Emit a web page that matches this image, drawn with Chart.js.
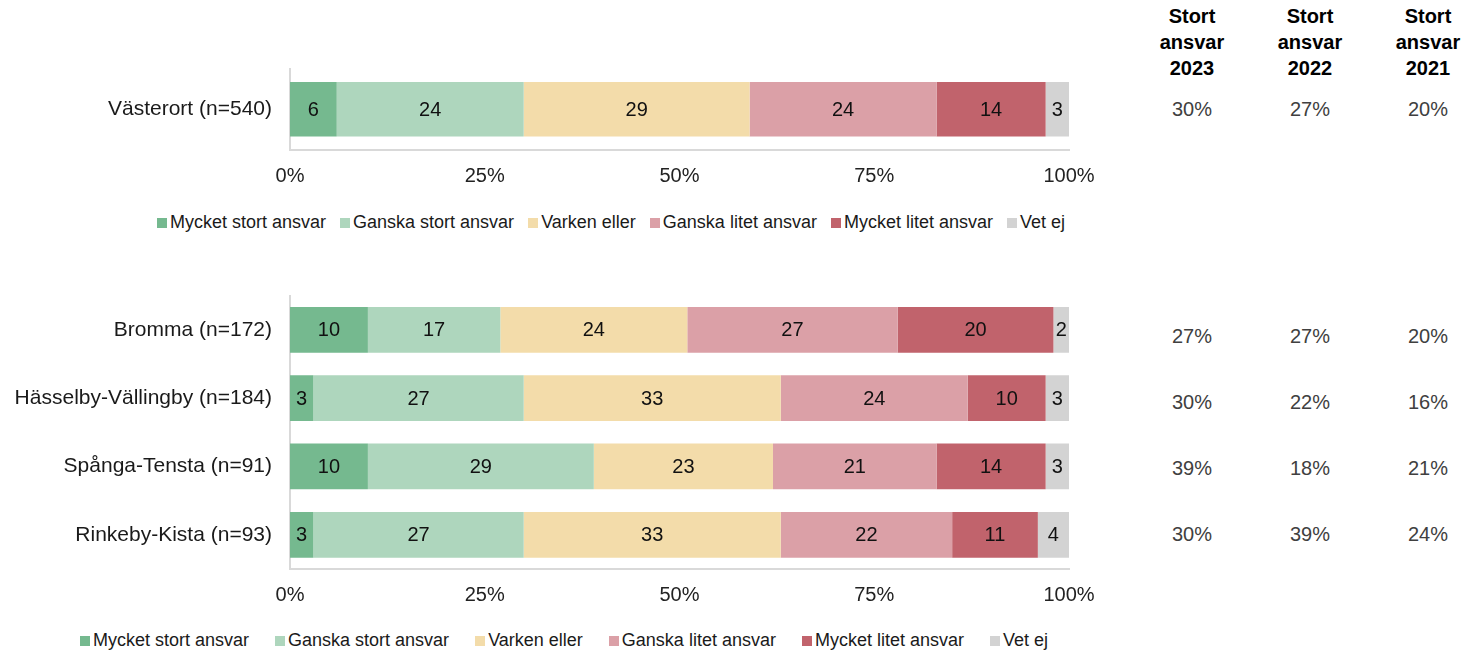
<!DOCTYPE html>
<html>
<head>
<meta charset="utf-8">
<script src="https://cdn.jsdelivr.net/npm/chart.js@4"></script>
<style>
  body { margin: 0; background: #fff; font-family: "Liberation Sans", Arial, sans-serif; }
  #wrap { position: relative; width: 1468px; height: 651px; overflow: hidden; }
  .cv { position: absolute; left: 0; }
  .legend { position: absolute; display: flex; align-items: center; font-size: 18px; color: #1a1a1a; white-space: nowrap; }
  .legend .item { display: flex; align-items: center; }
  .legend .box { width: 10px; height: 10px; margin-right: 3px; }
  .th, .td { position: absolute; width: 110px; text-align: center; font-size: 20px; }
  .th { font-weight: bold; color: #000; line-height: 26px; }
  .td { color: #404040; }
</style>
</head>
<body>
<div id="wrap">
  <canvas id="chart1" class="cv" style="top:38px"></canvas>
  <canvas id="chart2" class="cv" style="top:265px"></canvas>
  <div id="legend1" class="legend" style="left:157px; top:212px; gap:14px"></div>
  <div id="legend2" class="legend" style="left:80px; top:630px; gap:26px"></div>
  <div id="table"></div>
</div>
<script>
// areas: Västerort first, then the districts
const areas = ["Västerort (n=540)", "Bromma (n=172)", "Hässelby-Vällingby (n=184)", "Spånga-Tensta (n=91)", "Rinkeby-Kista (n=93)"];

const seriesNames = ["Mycket stort ansvar", "Ganska stort ansvar", "Varken eller", "Ganska litet ansvar", "Mycket litet ansvar", "Vet ej"];
const seriesColors = ["#75b98f", "#aed6bd", "#f3dcaa", "#dba0a7", "#c1636c", "#d3d3d3"];

const mycketStort = [6, 10, 3, 10, 3];
const ganskaStort = [24, 17, 27, 29, 27];
const varkenEller = [29, 24, 33, 23, 33];
const ganskaLitet = [24, 27, 24, 21, 22];
const mycketLitet = [14, 20, 10, 14, 11];
const vetEj = [3, 2, 3, 3, 4];

const xTicks = [0, 25, 50, 75, 100];

const tableHeaders = ["Stort<br>ansvar<br>2023", "Stort<br>ansvar<br>2022", "Stort<br>ansvar<br>2021"];
const stort2023 = ["30%", "27%", "30%", "39%", "30%"];
const stort2022 = ["27%", "27%", "22%", "18%", "39%"];
const stort2021 = ["20%", "20%", "16%", "21%", "24%"];

const allSeries = [mycketStort, ganskaStort, varkenEller, ganskaLitet, mycketLitet, vetEj];
const FONT = "'Liberation Sans', Arial, sans-serif";

// value labels in the middle of every segment
const segmentLabels = {
  id: "segmentLabels",
  afterDatasetsDraw(chart) {
    const ctx = chart.ctx;
    ctx.save();
    ctx.font = "20px " + FONT;
    ctx.fillStyle = "#111";
    ctx.textAlign = "center";
    ctx.textBaseline = "middle";
    chart.data.datasets.forEach((ds, i) => {
      chart.getDatasetMeta(i).data.forEach((bar, j) => {
        const p = bar.getProps(["x", "y", "base"], true);
        ctx.fillText(ds.data[j], (p.x + p.base) / 2, p.y + 1);
      });
    });
    ctx.restore();
  }
};

function makeChart(id, labels, from, to, height) {
  const canvas = document.getElementById(id);
  canvas.width = 1110;
  canvas.height = height;
  canvas.style.width = "1110px";
  canvas.style.height = height + "px";
  return new Chart(canvas, {
    type: "bar",
    data: {
      labels: labels,
      datasets: seriesNames.map((name, i) => ({
        label: name,
        data: allSeries[i].slice(from, to),
        backgroundColor: seriesColors[i],
        borderWidth: 0,
        categoryPercentage: 1,
        barPercentage: 0.67
      }))
    },
    options: {
      indexAxis: "y",
      responsive: false,
      animation: false,
      layout: { padding: { top: 0, right: 41, left: 0, bottom: 0 } },
      plugins: { legend: { display: false }, tooltip: { enabled: false } },
      scales: {
        x: {
          stacked: true,
          min: 0,
          max: 100,
          afterBuildTicks: s => { s.ticks = xTicks.map(v => ({ value: v })); },
          afterFit: s => { s.height = 40; },
          grid: { display: false, drawTicks: false },
          border: { display: true, color: "#d9d9d9", width: 2 },
          ticks: {
            padding: 14,
            color: "#222",
            font: { family: FONT, size: 20 },
            callback: v => v + "%"
          }
        },
        y: {
          stacked: true,
          afterFit: s => { s.width = 290; },
          grid: { display: false, drawTicks: false },
          border: { display: true, color: "#d9d9d9", width: 2 },
          ticks: {
            padding: 18,
            color: "#1a1a1a",
            font: { family: FONT, size: 21 }
          }
        }
      }
    },
    plugins: [segmentLabels]
  });
}

makeChart("chart1", areas.slice(0, 1), 0, 1, 152);
makeChart("chart2", areas.slice(1), 1, 5, 344);

// legends
["legend1", "legend2"].forEach(id => {
  const el = document.getElementById(id);
  seriesNames.forEach((name, i) => {
    const item = document.createElement("div");
    item.className = "item";
    item.innerHTML = '<span class="box" style="background:' + seriesColors[i] + '"></span>' + name;
    el.appendChild(item);
  });
});

// table on the right
const tableCols = [stort2023, stort2022, stort2021];
const colCenters = [1192, 1310, 1428];
const rowCenters = [110, 337, 403, 469, 535];
const table = document.getElementById("table");
tableHeaders.forEach((h, c) => {
  const d = document.createElement("div");
  d.className = "th";
  d.style.left = (colCenters[c] - 55) + "px";
  d.style.top = "3px";
  d.innerHTML = h;
  table.appendChild(d);
});
tableCols.forEach((col, c) => {
  col.forEach((v, r) => {
    const d = document.createElement("div");
    d.className = "td";
    d.style.left = (colCenters[c] - 55) + "px";
    d.style.top = (rowCenters[r] - 12) + "px";
    d.textContent = v;
    table.appendChild(d);
  });
});
</script>
</body>
</html>
